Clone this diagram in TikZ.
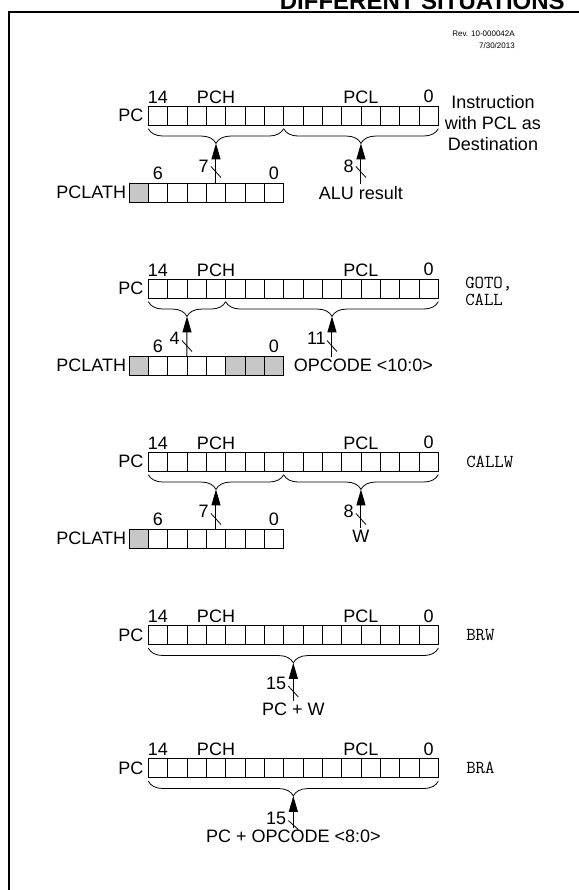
\documentclass[tikz,border=0pt]{standalone}
\usepackage{fontspec}
\setmainfont{Liberation Sans}
\usepackage{tikz}
\usetikzlibrary{positioning,calc,arrows.meta,decorations.pathreplacing}

\begin{document}
\begin{tikzpicture}[x=0.75pt,y=-0.75pt,
  cell/.style={draw,line width=0.6pt,minimum width=14.5pt,minimum height=14.5pt,inner sep=0pt,outer sep=0pt},
  grey/.style={cell,fill=black!22},
  lbl/.style={font=\fontsize{13.5}{16}\selectfont,inner sep=0pt},
  code/.style={font=\fontsize{13.7}{12.75}\ttfamily\selectfont,inner sep=0pt,align=left,anchor=west},
  sig/.style={line width=0.75pt,-{Triangle[length=12pt,width=6.75pt]}},
  bus/.style={line width=0.6pt},
  brc/.style={line width=0.6pt,decorate,decoration={brace,mirror,amplitude=11pt}},
  frame/.style={line width=1.3pt}]
\useasboundingbox (0,0) rectangle (579,890);
\clip (0,0) rectangle (579,890);

% frame and title
\draw[frame] (9.2,895) -- (9.2,11.8) -- (585,11.8);
\node[anchor=base east,font=\bfseries\fontsize{18}{21}\selectfont,inner sep=0pt] (ttl) at (565,9) {DIFFERENT SITUATIONS};
\node[anchor=north east,align=right,font=\fontsize{6}{8.5}\selectfont,inner sep=0pt] (rev) at (515,31) {Rev. 10-000042A\\7/30/2013};

% PCL as destination
\foreach \i in {0,...,14}
  \node[cell] (pcA-\i) at ({158+19.33*\i},115.7) {};
\node[lbl,left=3.5pt of pcA-0] (pcnA) {PC};
\node[lbl,above=2pt of pcA-0] (hiA) {14};
\node[lbl,above=2pt of pcA-14] (loA) {0};
\node[lbl,anchor=base] (pchA) at (216,103.3) {PCH};
\node[lbl,anchor=base] (pclA) at (360.8,103.3) {PCL};
\draw[brc] ([yshift=-2.5pt]pcA-0.south west) -- ([yshift=-2.5pt]pcA-6.south east);
\draw[brc] ([yshift=-2.5pt]pcA-7.south west) -- ([yshift=-2.5pt]pcA-14.south east);
\coordinate (tA1) at ($(pcA-0.south west)!.5!(pcA-6.south east)+(0,18)$);
\coordinate (tA2) at ($(pcA-7.south west)!.5!(pcA-14.south east)+(0,18)$);
\node[grey] (laA-0) at (138.67,192.7) {};
\foreach \i in {1,...,7}
  \node[cell] (laA-\i) at ({138.67+19.33*\i},192.7) {};
\node[lbl,left=2pt of laA-0] (lnA) {PCLATH};
\node[lbl,above=2pt of laA-1] (l6A) {6};
\node[lbl,above=2pt of laA-7] (l0A) {0};
\node[lbl,anchor=north,inner sep=1.5pt] (aluA) at (tA2 |- 0,184) {ALU result};
\draw[sig] (laA-4.north) -- (tA1);
\draw[sig] (aluA.north) -- (tA2);
\coordinate (sA1) at (tA1 |- 0,172);
\coordinate (sA2) at (tA2 |- 0,172);
\draw[bus] ([shift={(-5,-5.5)}]sA1) -- ([shift={(5,5.5)}]sA1);
\draw[bus] ([shift={(-5,-5.5)}]sA2) -- ([shift={(5,5.5)}]sA2);
\node[lbl,anchor=east] (nA1) at ([shift={(-7,-6)}]sA1) {7};
\node[lbl,anchor=east] (nA2) at ([shift={(-7,-6)}]sA2) {8};
\node[lbl,align=center] (insA) at (493,123) {Instruction\\with PCL as\\Destination};

% GOTO, CALL
\foreach \i in {0,...,14}
  \node[cell] (pcB-\i) at ({158+19.33*\i},288.7) {};
\node[lbl,left=3.5pt of pcB-0] (pcnB) {PC};
\node[lbl,above=2pt of pcB-0] (hiB) {14};
\node[lbl,above=2pt of pcB-14] (loB) {0};
\node[lbl,anchor=base] (pchB) at (216,276.3) {PCH};
\node[lbl,anchor=base] (pclB) at (360.8,276.3) {PCL};
\draw[brc] ([yshift=-2.5pt]pcB-0.south west) -- ([yshift=-2.5pt]pcB-3.south east);
\draw[brc] ([yshift=-2.5pt]pcB-4.south west) -- ([yshift=-2.5pt]pcB-14.south east);
\coordinate (tB1) at ($(pcB-0.south west)!.5!(pcB-3.south east)+(0,18)$);
\coordinate (tB2) at ($(pcB-4.south west)!.5!(pcB-14.south east)+(0,18)$);
\foreach \i in {0,5,6,7}
  \node[grey] (laB-\i) at ({138.67+19.33*\i},365.7) {};
\foreach \i in {1,...,4}
  \node[cell] (laB-\i) at ({138.67+19.33*\i},365.7) {};
\node[lbl,left=2pt of laB-0] (lnB) {PCLATH};
\node[lbl,above=2pt of laB-1] (l6B) {6};
\node[lbl,above=2pt of laB-7] (l0B) {0};
\node[lbl,anchor=north west,inner sep=1.5pt] (opcB) at (291.5,357) {OPCODE <10:0>};
\draw[sig] (laB-2.north east) -- (tB1);
\draw[sig] (tB2 |- opcB.north) -- (tB2);
\coordinate (sB1) at (tB1 |- 0,346);
\coordinate (sB2) at (tB2 |- 0,346);
\draw[bus] ([shift={(-5,-5.5)}]sB1) -- ([shift={(5,5.5)}]sB1);
\draw[bus] ([shift={(-5,-5.5)}]sB2) -- ([shift={(5,5.5)}]sB2);
\node[lbl,anchor=east] (nB1) at ([shift={(-7,-8)}]sB1) {4};
\node[lbl,anchor=east] (nB2) at ([shift={(-6,-8)}]sB2) {11};
\node[code] (insB) at (465,291.5) {GOTO,\\CALL};

% CALLW
\foreach \i in {0,...,14}
  \node[cell] (pcC-\i) at ({158+19.33*\i},461.7) {};
\node[lbl,left=3.5pt of pcC-0] (pcnC) {PC};
\node[lbl,above=2pt of pcC-0] (hiC) {14};
\node[lbl,above=2pt of pcC-14] (loC) {0};
\node[lbl,anchor=base] (pchC) at (216,449.3) {PCH};
\node[lbl,anchor=base] (pclC) at (360.8,449.3) {PCL};
\draw[brc] ([yshift=-2.5pt]pcC-0.south west) -- ([yshift=-2.5pt]pcC-6.south east);
\draw[brc] ([yshift=-2.5pt]pcC-7.south west) -- ([yshift=-2.5pt]pcC-14.south east);
\coordinate (tC1) at ($(pcC-0.south west)!.5!(pcC-6.south east)+(0,18)$);
\coordinate (tC2) at ($(pcC-7.south west)!.5!(pcC-14.south east)+(0,18)$);
\node[grey] (laC-0) at (138.67,538.7) {};
\foreach \i in {1,...,7}
  \node[cell] (laC-\i) at ({138.67+19.33*\i},538.7) {};
\node[lbl,left=2pt of laC-0] (lnC) {PCLATH};
\node[lbl,above=2pt of laC-1] (l6C) {6};
\node[lbl,above=2pt of laC-7] (l0C) {0};
\node[lbl,anchor=north,inner sep=1.5pt] (wC) at (tC2 |- 0,528) {W};
\draw[sig] (laC-4.north) -- (tC1);
\draw[sig] (wC.north) -- (tC2);
\coordinate (sC1) at (tC1 |- 0,519);
\coordinate (sC2) at (tC2 |- 0,519);
\draw[bus] ([shift={(-5,-5.5)}]sC1) -- ([shift={(5,5.5)}]sC1);
\draw[bus] ([shift={(-5,-5.5)}]sC2) -- ([shift={(5,5.5)}]sC2);
\node[lbl,anchor=east] (nC1) at ([shift={(-7,-8)}]sC1) {7};
\node[lbl,anchor=east] (nC2) at ([shift={(-7,-8)}]sC2) {8};
\node[code] (insC) at (466,461.7) {CALLW};

% BRW
\foreach \i in {0,...,14}
  \node[cell] (pcD-\i) at ({158+19.33*\i},635.2) {};
\node[lbl,left=3.5pt of pcD-0] (pcnD) {PC};
\node[lbl,above=2pt of pcD-0] (hiD) {14};
\node[lbl,above=2pt of pcD-14] (loD) {0};
\node[lbl,anchor=base] (pchD) at (216,622.8) {PCH};
\node[lbl,anchor=base] (pclD) at (360.8,622.8) {PCL};
\draw[brc] ([yshift=-2.5pt]pcD-0.south west) -- ([yshift=-2.5pt]pcD-14.south east);
\coordinate (tD) at ($(pcD-0.south west)!.5!(pcD-14.south east)+(0,18)$);
\node[lbl,anchor=north,inner sep=1.5pt] (valD) at (tD |- 0,701) {PC + W};
\draw[sig] (valD.north) -- (tD);
\coordinate (sD) at (tD |- 0,691.5);
\draw[bus] ([shift={(-5,-5.5)}]sD) -- ([shift={(5,5.5)}]sD);
\node[lbl,anchor=east] (nD) at ([shift={(-7,-8)}]sD) {15};
\node[code] (insD) at (466,635.2) {BRW};

% BRA
\foreach \i in {0,...,14}
  \node[cell] (pcE-\i) at ({158+19.33*\i},768.2) {};
\node[lbl,left=3.5pt of pcE-0] (pcnE) {PC};
\node[lbl,above=2pt of pcE-0] (hiE) {14};
\node[lbl,above=2pt of pcE-14] (loE) {0};
\node[lbl,anchor=base] (pchE) at (216,755.8) {PCH};
\node[lbl,anchor=base] (pclE) at (360.8,755.8) {PCL};
\draw[brc] ([yshift=-2.5pt]pcE-0.south west) -- ([yshift=-2.5pt]pcE-14.south east);
\coordinate (tE) at ($(pcE-0.south west)!.5!(pcE-14.south east)+(0,18)$);
\node[lbl,anchor=north,inner sep=1.5pt] (valE) at (tE |- 0,828) {PC + OPCODE <8:0>};
\draw[sig] (valE.north) -- (tE);
\coordinate (sE) at (tE |- 0,825);
\draw[bus] ([shift={(-5,-4.5)}]sE) -- ([shift={(5,4.5)}]sE);
\node[lbl,anchor=east] (nE) at ([shift={(-7,-7)}]sE) {15};
\node[code] (insE) at (466,768.2) {BRA};
\end{tikzpicture}
\end{document}
